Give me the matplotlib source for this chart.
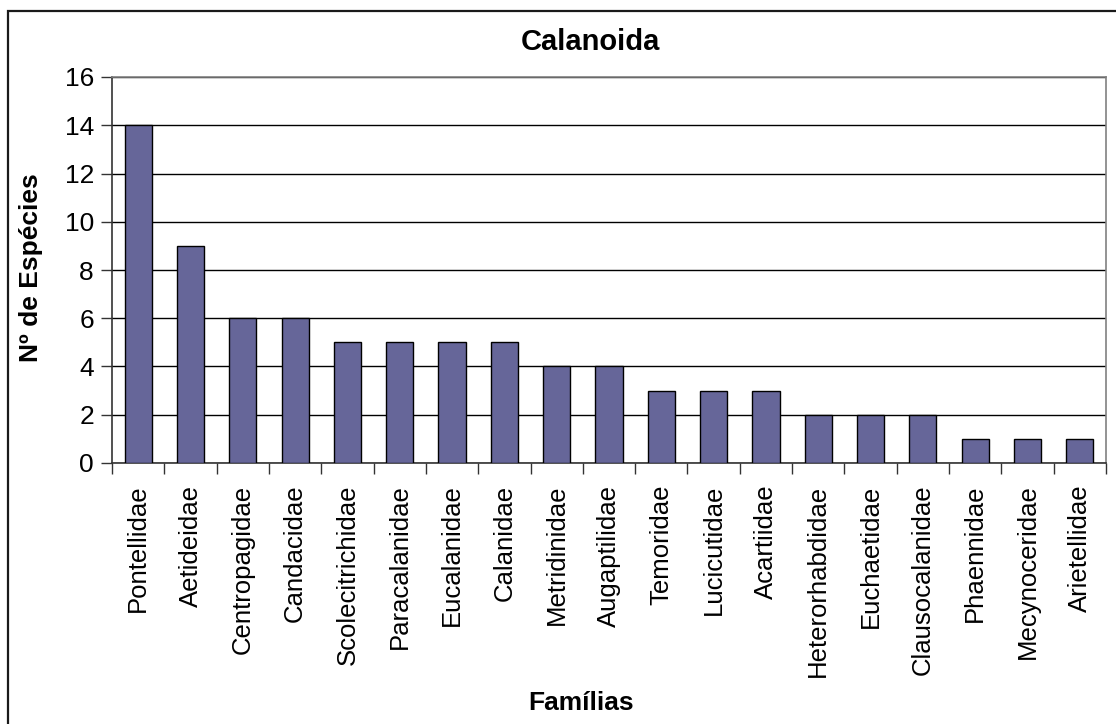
import matplotlib
matplotlib.use("Agg")
import matplotlib.pyplot as plt
from matplotlib.patches import Rectangle
import numpy as np

families = ["Pontellidae", "Aetideidae", "Centropagidae", "Candacidae",
            "Scolecitrichidae", "Paracalanidae", "Eucalanidae", "Calanidae",
            "Metridinidae", "Augaptilidae", "Temoridae", "Lucicutidae",
            "Acartiidae", "Heterorhabdidae", "Euchaetidae", "Clausocalanidae",
            "Phaennidae", "Mecynoceridae", "Arietellidae"]
species = [14, 9, 6, 6, 5, 5, 5, 5, 4, 4, 3, 3, 3, 2, 2, 2, 1, 1, 1]
yticks = [0, 2, 4, 6, 8, 10, 12, 14, 16]

plt.rcParams["font.family"] = ["Liberation Sans", "DejaVu Sans"]

W, H = 1116, 724
fig = plt.figure(figsize=(W / 100, H / 100), dpi=100)
fig.patch.set_facecolor("white")

# outer chart frame (top/left edges visible)
fig.patches.append(Rectangle((8 / W, -0.1), 1.2, (H - 11) / H + 0.1,
                             transform=fig.transFigure, fill=False,
                             edgecolor="#1a1a1a", linewidth=1.6))

left, right, top, bottom = 112, 1106, 77, 463
ax = fig.add_axes([left / W, 1 - bottom / H, (right - left) / W, (bottom - top) / H])

x = np.arange(len(families))
ax.bar(x, species, width=0.52, color="#666699", edgecolor="black",
       linewidth=1.0, zorder=3)

ax.set_xlim(-0.5, len(families) - 0.5)
ax.set_ylim(0, 16)
ax.set_yticks(yticks)
ax.set_yticklabels([str(v) for v in yticks], fontsize=19)
ax.yaxis.grid(True, color="black", linewidth=1.0, zorder=0)
ax.set_axisbelow(True)

# category ticks sit between bars; labels sit under bars
ax.set_xticks(np.arange(len(families) + 1) - 0.5)
ax.set_xticklabels([])
ax.set_xticks(x, minor=True)
ax.set_xticklabels(families, minor=True, rotation=90, fontsize=18.5, va="top")
ax.tick_params(axis="x", which="minor", length=0, pad=15.5)
ax.tick_params(axis="x", which="major", direction="out", length=8, width=1, color="#333333")
ax.tick_params(axis="y", direction="out", length=8, width=1, color="#333333", pad=5)

for side in ("top", "right"):
    ax.spines[side].set_color("#808080")
    ax.spines[side].set_linewidth(1.2)
for side in ("left", "bottom"):
    ax.spines[side].set_color("#333333")
    ax.spines[side].set_linewidth(1.2)

fig.text(590 / W, 1 - 42 / H, "Calanoida", ha="center", va="center",
         fontsize=21, fontweight="bold")
fig.text(581 / W, 1 - 703 / H, "Famílias", ha="center", va="center",
         fontsize=19, fontweight="bold")
fig.text(31 / W, 1 - 268 / H, "Nº de Espécies", ha="center", va="center",
         rotation=90, fontsize=19, fontweight="bold")

fig.savefig("out.png", dpi=100)
